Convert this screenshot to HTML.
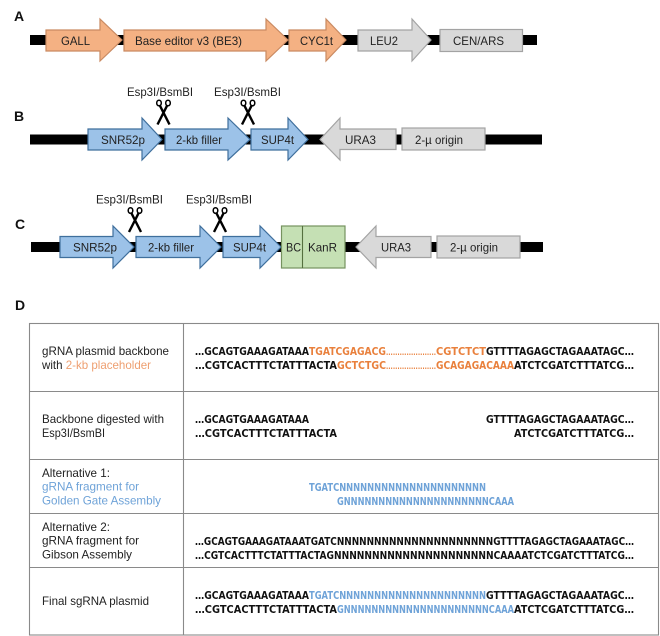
<!DOCTYPE html>
<html>
<head>
<meta charset="utf-8">
<style>
html,body{margin:0;padding:0;background:#fff}
svg{display:block}
text{font-family:"Liberation Sans",sans-serif;font-size:12px;fill:#222}
.h{font-weight:bold;font-size:14px;fill:#111}
text.q{font-family:"DejaVu Sans","Liberation Sans",sans-serif;font-weight:bold;font-size:10.8px;fill:#111}
text.o{fill:#e9803c}
text.b{fill:#6fa3d8}
.or{fill:#f4b183;stroke:#c98a62;stroke-width:1.2}
.bl{fill:#9cc2e8;stroke:#3f6f9c;stroke-width:1.2}
.gr{fill:#d9d9d9;stroke:#a3a3a3;stroke-width:1.2}
.gn{fill:#c5e0b4;stroke:#76925f;stroke-width:1.2}
.t{stroke:#8a8a8a;stroke-width:1.1;fill:none}
.sc{stroke:#000;fill:none}
</style>
</head>
<body>
<svg width="660" height="636" viewBox="0 0 660 636" xmlns="http://www.w3.org/2000/svg">
<defs>
<g id="sc">
  <ellipse cx="-4.500" cy="-9" rx="2.300" ry="2.800" class="sc" stroke-width="1.500"/>
  <ellipse cx="4.500" cy="-9" rx="2.300" ry="2.800" class="sc" stroke-width="1.500"/>
  <path d="M-3.500 -6.200 L6 12.500 M3.500 -6.200 L-6 12.500" class="sc" stroke-width="2.400"/>
</g>
</defs>

<text class="h" x="14" y="21">A</text>
<text class="h" x="14" y="121">B</text>
<text class="h" x="15" y="229">C</text>
<text class="h" x="15" y="310">D</text>

<!-- A -->
<rect x="30" y="35" width="507" height="10" fill="#000"/>
<path class="or" d="M46 30H100V19L122 40L100 61V51H46Z"/>
<path class="or" d="M124 30H266V19L288 40L266 61V51H124Z"/>
<path class="or" d="M289 30H326V19L346 40L326 61V51H289Z"/>
<path class="gr" d="M358 30H412V19L431 40L412 61V51H358Z"/>
<rect class="gr" x="440" y="29.500" width="82.500" height="22"/>
<text x="61" y="45" textLength="29" lengthAdjust="spacingAndGlyphs">GALL</text>
<text x="135" y="45" textLength="107" lengthAdjust="spacingAndGlyphs">Base editor v3 (BE3)</text>
<text x="300" y="45" textLength="33" lengthAdjust="spacingAndGlyphs">CYC1t</text>
<text x="370" y="45" textLength="28" lengthAdjust="spacingAndGlyphs">LEU2</text>
<text x="453" y="45" textLength="51" lengthAdjust="spacingAndGlyphs">CEN/ARS</text>

<!-- B -->
<rect x="30" y="134.500" width="512" height="10" fill="#000"/>
<path class="bl" d="M88 129H142V118L162 139.500L142 160V150H88Z"/>
<path class="bl" d="M165 129H228V118L250 139.500L228 160V150H165Z"/>
<path class="bl" d="M251 129H288V118L308 139.500L288 160V150H251Z"/>
<path class="gr" d="M396 129H340V118L320 139.500L340 160V149.500H396Z"/>
<rect class="gr" x="402" y="128" width="83" height="22"/>
<text x="101" y="144" textLength="44" lengthAdjust="spacingAndGlyphs">SNR52p</text>
<text x="176" y="144" textLength="46" lengthAdjust="spacingAndGlyphs">2-kb filler</text>
<text x="261" y="144" textLength="33" lengthAdjust="spacingAndGlyphs">SUP4t</text>
<text x="345" y="144" textLength="31" lengthAdjust="spacingAndGlyphs">URA3</text>
<text x="415" y="144" textLength="48" lengthAdjust="spacingAndGlyphs">2-µ origin</text>
<text x="127" y="96" textLength="66" lengthAdjust="spacingAndGlyphs">Esp3I/BsmBI</text>
<text x="214" y="96" textLength="67" lengthAdjust="spacingAndGlyphs">Esp3I/BsmBI</text>
<use href="#sc" x="163.500" y="112"/>
<use href="#sc" x="248" y="112"/>

<!-- C -->
<rect x="31" y="242" width="512" height="10" fill="#000"/>
<path class="bl" d="M60 236.500H113V226L134 247L113 268V257.500H60Z"/>
<path class="bl" d="M136 236.500H200V226L221 247L200 268V257.500H136Z"/>
<path class="bl" d="M223 236.500H260V226L281 247L260 268V257.500H223Z"/>
<rect class="gn" x="281.500" y="226" width="63.500" height="42"/>
<line x1="302.500" y1="226" x2="302.500" y2="268" stroke="#55703f" stroke-width="1.100"/>
<path class="gr" d="M431 236.500H376V226L356 247L376 268V257.500H431Z"/>
<rect class="gr" x="437" y="236" width="83" height="22"/>
<text x="73" y="251.500" textLength="44" lengthAdjust="spacingAndGlyphs">SNR52p</text>
<text x="148" y="251.500" textLength="46" lengthAdjust="spacingAndGlyphs">2-kb filler</text>
<text x="233" y="251.500" textLength="33" lengthAdjust="spacingAndGlyphs">SUP4t</text>
<text x="286" y="251.500" textLength="15" lengthAdjust="spacingAndGlyphs">BC</text>
<text x="308" y="251.500" textLength="29" lengthAdjust="spacingAndGlyphs">KanR</text>
<text x="381" y="251.500" textLength="30" lengthAdjust="spacingAndGlyphs">URA3</text>
<text x="450" y="251.500" textLength="48" lengthAdjust="spacingAndGlyphs">2-µ origin</text>
<text x="96" y="203.500" textLength="67" lengthAdjust="spacingAndGlyphs">Esp3I/BsmBI</text>
<text x="186" y="203.500" textLength="66" lengthAdjust="spacingAndGlyphs">Esp3I/BsmBI</text>
<use href="#sc" x="135" y="219.500"/>
<use href="#sc" x="220" y="219.500"/>

<!-- D table -->
<rect class="t" x="29.500" y="323.500" width="629" height="311.500"/>
<path class="t" d="M183.500 323.500V635M29.500 391.500H658.500M29.500 459.500H658.500M29.500 513.500H658.500M29.500 567.500H658.500"/>

<text x="42" y="355" textLength="127" lengthAdjust="spacingAndGlyphs">gRNA plasmid backbone</text>
<text x="42" y="369" textLength="109" lengthAdjust="spacingAndGlyphs">with <tspan style="fill:#ee9f70">2-kb placeholder</tspan></text>
<text x="42" y="423" textLength="122" lengthAdjust="spacingAndGlyphs">Backbone digested with</text>
<text x="42" y="437" textLength="63" lengthAdjust="spacingAndGlyphs">Esp3I/BsmBI</text>
<text x="42" y="477" textLength="68" lengthAdjust="spacingAndGlyphs">Alternative 1:</text>
<text x="42" y="490.500" textLength="97" lengthAdjust="spacingAndGlyphs" style="fill:#6fa3d8">gRNA fragment for</text>
<text x="42" y="504.500" textLength="119" lengthAdjust="spacingAndGlyphs" style="fill:#6fa3d8">Golden Gate Assembly</text>
<text x="42" y="531" textLength="68" lengthAdjust="spacingAndGlyphs">Alternative 2:</text>
<text x="42" y="544.500" textLength="97" lengthAdjust="spacingAndGlyphs">gRNA fragment for</text>
<text x="42" y="558.500" textLength="90" lengthAdjust="spacingAndGlyphs">Gibson Assembly</text>
<text x="42" y="605" textLength="107" lengthAdjust="spacingAndGlyphs">Final sgRNA plasmid</text>

<!-- Row 1 -->
<text class="q" x="195" y="355" textLength="114" lengthAdjust="spacingAndGlyphs">…GCAGTGAAAGATAAA</text>
<text class="q o" x="309" y="355" textLength="77" lengthAdjust="spacingAndGlyphs">TGATCGAGACG</text>
<text class="q o" x="386" y="355" textLength="50" lengthAdjust="spacingAndGlyphs" style="font-size:8px">......................</text>
<text class="q o" x="436" y="355" textLength="50" lengthAdjust="spacingAndGlyphs">CGTCTCT</text>
<text class="q" x="486" y="355" textLength="148" lengthAdjust="spacingAndGlyphs">GTTTTAGAGCTAGAAATAGC…</text>
<text class="q" x="195" y="369" textLength="142" lengthAdjust="spacingAndGlyphs">…CGTCACTTTCTATTTACTA</text>
<text class="q o" x="337" y="369" textLength="49" lengthAdjust="spacingAndGlyphs">GCTCTGC</text>
<text class="q o" x="386" y="369" textLength="50" lengthAdjust="spacingAndGlyphs" style="font-size:8px">......................</text>
<text class="q o" x="436" y="369" textLength="78" lengthAdjust="spacingAndGlyphs">GCAGAGACAAA</text>
<text class="q" x="514" y="369" textLength="120" lengthAdjust="spacingAndGlyphs">ATCTCGATCTTTATCG…</text>

<!-- Row 2 -->
<text class="q" x="195" y="423" textLength="114" lengthAdjust="spacingAndGlyphs">…GCAGTGAAAGATAAA</text>
<text class="q" x="486" y="423" textLength="148" lengthAdjust="spacingAndGlyphs">GTTTTAGAGCTAGAAATAGC…</text>
<text class="q" x="195" y="437" textLength="142" lengthAdjust="spacingAndGlyphs">…CGTCACTTTCTATTTACTA</text>
<text class="q" x="514" y="437" textLength="120" lengthAdjust="spacingAndGlyphs">ATCTCGATCTTTATCG…</text>

<!-- Row 3 -->
<text class="q b" x="309" y="491" textLength="177" lengthAdjust="spacingAndGlyphs">TGATCNNNNNNNNNNNNNNNNNNNNN</text>
<text class="q b" x="337" y="505" textLength="177" lengthAdjust="spacingAndGlyphs">GNNNNNNNNNNNNNNNNNNNNNCAAA</text>

<!-- Row 4 -->
<text class="q" x="195" y="545" textLength="439" lengthAdjust="spacingAndGlyphs">…GCAGTGAAAGATAAATGATCNNNNNNNNNNNNNNNNNNNNNGTTTTAGAGCTAGAAATAGC…</text>
<text class="q" x="195" y="559" textLength="439" lengthAdjust="spacingAndGlyphs">…CGTCACTTTCTATTTACTAGNNNNNNNNNNNNNNNNNNNNNCAAAATCTCGATCTTTATCG…</text>

<!-- Row 5 -->
<text class="q" x="195" y="599" textLength="114" lengthAdjust="spacingAndGlyphs">…GCAGTGAAAGATAAA</text>
<text class="q b" x="309" y="599" textLength="177" lengthAdjust="spacingAndGlyphs">TGATCNNNNNNNNNNNNNNNNNNNNN</text>
<text class="q" x="486" y="599" textLength="148" lengthAdjust="spacingAndGlyphs">GTTTTAGAGCTAGAAATAGC…</text>
<text class="q" x="195" y="613" textLength="142" lengthAdjust="spacingAndGlyphs">…CGTCACTTTCTATTTACTA</text>
<text class="q b" x="337" y="613" textLength="177" lengthAdjust="spacingAndGlyphs">GNNNNNNNNNNNNNNNNNNNNNCAAA</text>
<text class="q" x="514" y="613" textLength="120" lengthAdjust="spacingAndGlyphs">ATCTCGATCTTTATCG…</text>
</svg>
</body>
</html>
